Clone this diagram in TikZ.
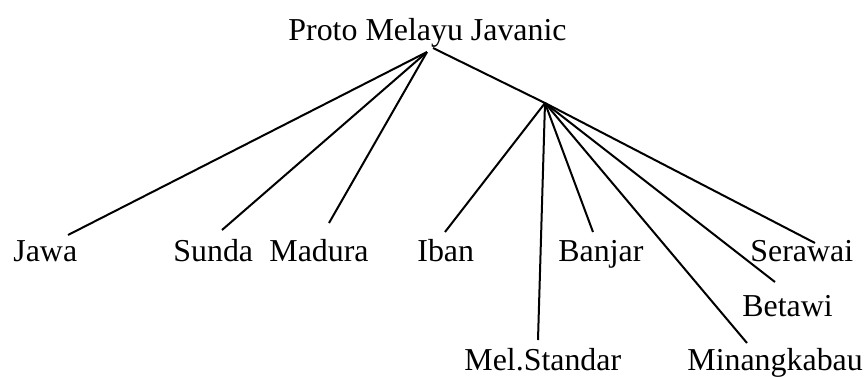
\documentclass[tikz,border=0pt]{standalone}
\usepackage{fontspec}
\setmainfont{Liberation Serif}
\begin{document}
\begin{tikzpicture}[x=0.5pt,y=-0.5pt,
  lbl/.style={inner sep=0pt,anchor=base west,font=\fontsize{15.95}{19}\selectfont},
  edge/.style={draw=black,line width=1pt}]
\useasboundingbox (0,0) rectangle (864,376);
\node[lbl] (root) at (288,40) {Proto Melayu Javanic};
\node[lbl] (jawa) at (13,261) {Jawa};
\node[lbl] (sunda) at (173,261) {Sunda};
\node[lbl] (madura) at (269,261) {Madura};
\node[lbl] (iban) at (417,261) {Iban};
\node[lbl] (banjar) at (558,261) {Banjar};
\node[lbl] (serawai) at (750,261) {Serawai};
\node[lbl] (betawi) at (742,316) {Betawi};
\node[lbl] (melst) at (464,370) {Mel.Standar};
\node[lbl] (minang) at (687,370) {Minangkabau};
\coordinate (ja) at (427,52);
\coordinate (jb) at (433,48);
\coordinate (j2) at (545,103);
\coordinate (ejawa) at (68,235);
\coordinate (esunda) at (222,230);
\coordinate (emadura) at (329,223);
\coordinate (eiban) at (445,232);
\coordinate (emelst) at (538,340);
\coordinate (ebanjar) at (593,232);
\coordinate (eminang) at (747,343);
\coordinate (ebetawi) at (775,282);
\coordinate (eserawai) at (815,243);
\draw[edge] (ja) -- (ejawa);
\draw[edge] (ja) -- (esunda);
\draw[edge] (ja) -- (emadura);
\draw[edge] (jb) -- (j2);
\draw[edge] (j2) -- (eiban);
\draw[edge] (j2) -- (emelst);
\draw[edge] (j2) -- (ebanjar);
\draw[edge] (j2) -- (eminang);
\draw[edge] (j2) -- (ebetawi);
\draw[edge] (j2) -- (eserawai);
\end{tikzpicture}
\end{document}
